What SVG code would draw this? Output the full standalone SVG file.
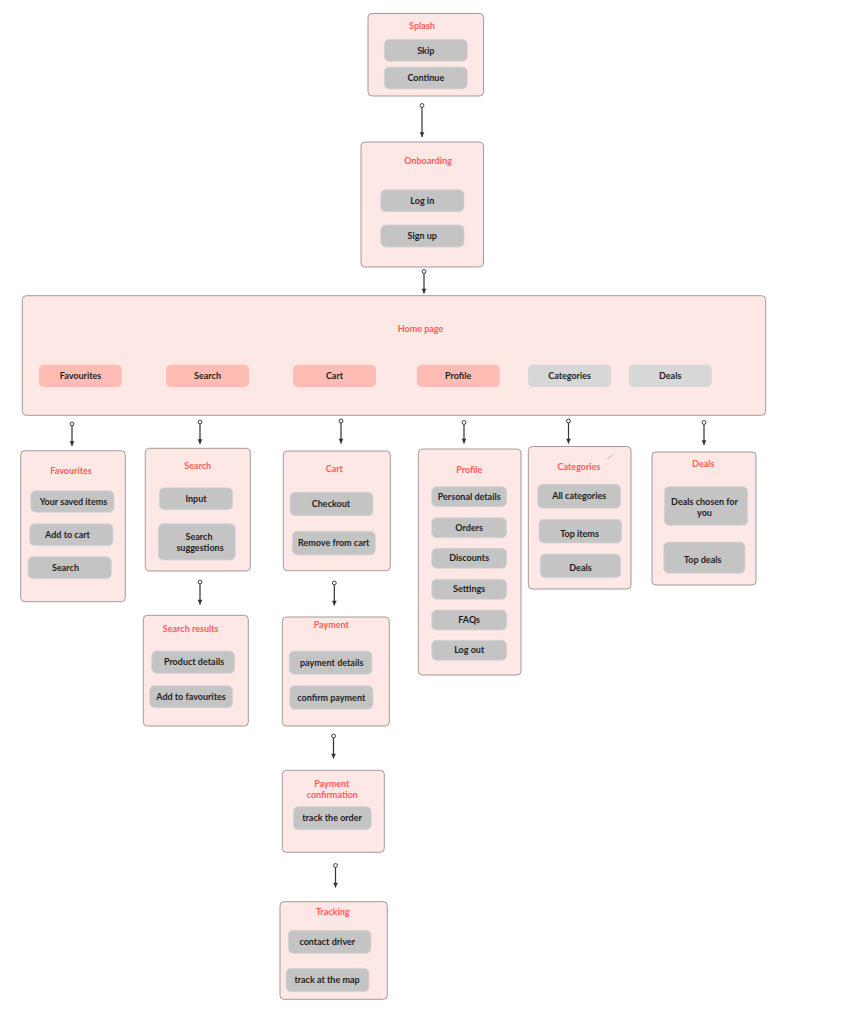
<svg xmlns="http://www.w3.org/2000/svg" width="865" height="1024" viewBox="0 0 865 1024">
<defs>
<style>
.card{fill:#fde8e6;stroke:#a39a99;stroke-width:1}
.t{font-family:Lato,"Open Sans","Liberation Sans",sans-serif;font-weight:bold;font-size:9px;fill:#ff5a5a;text-anchor:middle}
.b{fill:#c4c4c4;stroke:#d6d6d6;stroke-width:0.8}
.hb{fill:#ffbcb5}
.gb{fill:#d7d7d7}
.l{font-family:Lato,"Open Sans","Liberation Sans",sans-serif;font-weight:bold;font-size:9px;fill:#1e1e1e;text-anchor:middle}
.c{stroke:#333;stroke-width:1.2;fill:none;marker-start:url(#dot);marker-end:url(#arr)}
</style>
<marker id="dot" viewBox="0 0 8 8" refX="4" refY="4" markerWidth="5.5" markerHeight="5.5" markerUnits="userSpaceOnUse" orient="auto">
<circle cx="4" cy="4" r="2.8" fill="#fff" stroke="#333" stroke-width="1.4"/>
</marker>
<marker id="arr" viewBox="0 0 10 10" refX="9" refY="5" markerWidth="6" markerHeight="6" markerUnits="userSpaceOnUse" orient="auto">
<path d="M1,1 L9,5 L1,9 z" fill="#333"/>
</marker>
</defs>
<rect width="865" height="1024" fill="#fff"/>

<g id="connectors">
<line class="c" x1="422" y1="105.5" x2="422" y2="137"/>
<line class="c" x1="424" y1="271.5" x2="424" y2="293.5"/>
<line class="c" x1="72" y1="424" x2="72" y2="446"/>
<line class="c" x1="200" y1="422" x2="200" y2="444"/>
<line class="c" x1="341" y1="421" x2="341" y2="443.5"/>
<line class="c" x1="464" y1="422.5" x2="464" y2="443.5"/>
<line class="c" x1="568.5" y1="421" x2="568.5" y2="443.5"/>
<line class="c" x1="704" y1="422.5" x2="704" y2="445"/>
<line class="c" x1="200" y1="582" x2="200" y2="604.5"/>
<line class="c" x1="334.3" y1="583" x2="334.3" y2="605.5"/>
<line class="c" x1="333.5" y1="736" x2="333.5" y2="758.5"/>
<line class="c" x1="335.5" y1="865.5" x2="335.5" y2="887.5"/>
</g>

<g id="splash">
<rect class="card" x="368" y="13.5" width="115.5" height="82.5" rx="4"/>
<text class="t" x="422" y="29">Splash</text>
<rect class="b" x="384.3" y="39.3" width="83" height="22" rx="5"/>
<text class="l" x="425.8" y="53.5">Skip</text>
<rect class="b" x="384.3" y="67" width="83" height="22" rx="5"/>
<text class="l" x="425.8" y="81.2">Continue</text>
</g>

<g id="onboarding">
<rect class="card" x="361" y="142" width="122.5" height="125" rx="4"/>
<text class="t" x="428" y="164">Onboarding</text>
<rect class="b" x="380.7" y="189.7" width="83.3" height="22" rx="5"/>
<text class="l" x="422.3" y="204">Log in</text>
<rect class="b" x="380.7" y="225" width="83.3" height="22" rx="5"/>
<text class="l" x="422.3" y="239.3">Sign up</text>
</g>

<g id="home">
<rect class="card" x="22.3" y="295.7" width="743.4" height="119.6" rx="4"/>
<text class="t" x="420.5" y="331.5">Home page</text>
<rect class="hb" x="39" y="364.7" width="83" height="22.3" rx="5"/>
<text class="l" x="80.5" y="379.2">Favourites</text>
<rect class="hb" x="166" y="364.7" width="83" height="22.3" rx="5"/>
<text class="l" x="207.5" y="379.2">Search</text>
<rect class="hb" x="293" y="364.7" width="83" height="22.3" rx="5"/>
<text class="l" x="334.5" y="379.2">Cart</text>
<rect class="hb" x="416.7" y="364.7" width="83" height="22.3" rx="5"/>
<text class="l" x="458.2" y="379.2">Profile</text>
<rect class="gb" x="528" y="364.7" width="83.3" height="22.3" rx="5"/>
<text class="l" x="569.6" y="379.2">Categories</text>
<rect class="gb" x="628.7" y="364.7" width="83" height="22.3" rx="5"/>
<text class="l" x="670.2" y="379.2">Deals</text>
</g>

<g id="favourites">
<rect class="card" x="20.7" y="450.7" width="104.6" height="151" rx="4"/>
<text class="t" x="71" y="473.7">Favourites</text>
<rect class="b" x="30.7" y="490.7" width="83.3" height="21.6" rx="5"/>
<text class="l" x="73.5" y="504.7">Your saved items</text>
<rect class="b" x="29.7" y="523.7" width="83.3" height="22" rx="5"/>
<text class="l" x="67.5" y="537.9">Add to cart</text>
<rect class="b" x="28" y="556.7" width="83.3" height="22" rx="5"/>
<text class="l" x="65.5" y="570.9">Search</text>
</g>

<g id="search">
<rect class="card" x="145.3" y="448.3" width="105" height="122.7" rx="4"/>
<text class="t" x="197.7" y="468.7">Search</text>
<rect class="b" x="159.3" y="487.7" width="73.4" height="22" rx="5"/>
<text class="l" x="196" y="502">Input</text>
<rect class="b" x="158.3" y="523.7" width="77" height="36.3" rx="5"/>
<text class="l" x="199" y="539.7">Search</text>
<text class="l" x="200" y="550.9">suggestions</text>
</g>

<g id="search-results">
<rect class="card" x="143.3" y="615.3" width="105" height="110.7" rx="4"/>
<text class="t" x="190.7" y="631.8">Search results</text>
<rect class="b" x="151.7" y="651" width="83" height="22.3" rx="5"/>
<text class="l" x="194" y="665.3">Product details</text>
<rect class="b" x="149.7" y="685.7" width="83" height="22" rx="5"/>
<text class="l" x="191" y="699.9">Add to favourites</text>
</g>

<g id="cart">
<rect class="card" x="283.3" y="451" width="107" height="119.7" rx="4"/>
<text class="t" x="334.3" y="472.4">Cart</text>
<rect class="b" x="290" y="492.3" width="83" height="23.4" rx="5"/>
<text class="l" x="331" y="507.1">Checkout</text>
<rect class="b" x="292.3" y="531.3" width="83" height="23.7" rx="5"/>
<text class="l" x="333.7" y="546.2">Remove from cart</text>
</g>

<g id="payment">
<rect class="card" x="282.3" y="617" width="107" height="109" rx="4"/>
<text class="t" x="331.3" y="627.8">Payment</text>
<rect class="b" x="289.3" y="651" width="82.7" height="23.3" rx="5"/>
<text class="l" x="331.7" y="665.8">payment details</text>
<rect class="b" x="289.7" y="685.7" width="83.3" height="23.6" rx="5"/>
<text class="l" x="331.3" y="700.6">confirm payment</text>
</g>

<g id="payment-confirmation">
<rect class="card" x="282.3" y="770.3" width="102" height="82" rx="4"/>
<text class="t" x="331.8" y="787.4">Payment</text>
<text class="t" x="332.3" y="798.1">confirmation</text>
<rect class="b" x="293.3" y="806.7" width="78" height="23" rx="5"/>
<text class="l" x="332" y="821.3">track the order</text>
</g>

<g id="tracking">
<rect class="card" x="280" y="901.7" width="107.3" height="97.6" rx="4"/>
<text class="t" x="332.7" y="914.8">Tracking</text>
<rect class="b" x="288.3" y="930.3" width="82.7" height="23" rx="5"/>
<text class="l" x="327.3" y="944.9">contact driver</text>
<rect class="b" x="286" y="968.3" width="83" height="23.4" rx="5"/>
<text class="l" x="327" y="983.1">track at the map</text>
</g>

<g id="profile">
<rect class="card" x="418.3" y="449" width="102.7" height="226" rx="4"/>
<text class="t" x="469.3" y="473">Profile</text>
<rect class="b" x="431.7" y="486.7" width="75" height="20" rx="5"/>
<text class="l" x="469.2" y="499.8">Personal details</text>
<rect class="b" x="431.7" y="517.7" width="75" height="20" rx="5"/>
<text class="l" x="469.2" y="530.8">Orders</text>
<rect class="b" x="431.7" y="548.3" width="75" height="20" rx="5"/>
<text class="l" x="469.2" y="561.4">Discounts</text>
<rect class="b" x="431.7" y="579.3" width="75" height="20" rx="5"/>
<text class="l" x="469.2" y="592.4">Settings</text>
<rect class="b" x="431.7" y="610" width="75" height="20" rx="5"/>
<text class="l" x="469.2" y="623.1">FAQs</text>
<rect class="b" x="431.7" y="640.3" width="75" height="20" rx="5"/>
<text class="l" x="469.2" y="653.4">Log out</text>
</g>

<g id="categories">
<rect class="card" x="528.3" y="446.5" width="102.7" height="142.5" rx="4"/>
<line x1="607.3" y1="459.3" x2="613.3" y2="454.3" stroke="#a8a8a8" stroke-width="0.8"/>
<text class="t" x="579" y="470">Categories</text>
<rect class="b" x="537.7" y="484.3" width="83" height="24" rx="5"/>
<text class="l" x="579.2" y="499.2">All categories</text>
<rect class="b" x="539" y="519.3" width="82.7" height="23.7" rx="5"/>
<text class="l" x="579.5" y="536.5">Top items</text>
<rect class="b" x="540.3" y="554" width="80.4" height="23.7" rx="5"/>
<text class="l" x="580.5" y="571">Deals</text>
</g>

<g id="deals">
<rect class="card" x="652" y="452" width="104" height="133" rx="4"/>
<text class="t" x="703.3" y="467">Deals</text>
<rect class="b" x="664.3" y="486.7" width="83.4" height="38.6" rx="5"/>
<text class="l" x="704.5" y="504.5">Deals chosen for</text>
<text class="l" x="704.5" y="515.5">you</text>
<rect class="b" x="663.7" y="542" width="81.3" height="31.3" rx="5"/>
<text class="l" x="702.7" y="562.6">Top deals</text>
</g>
</svg>
